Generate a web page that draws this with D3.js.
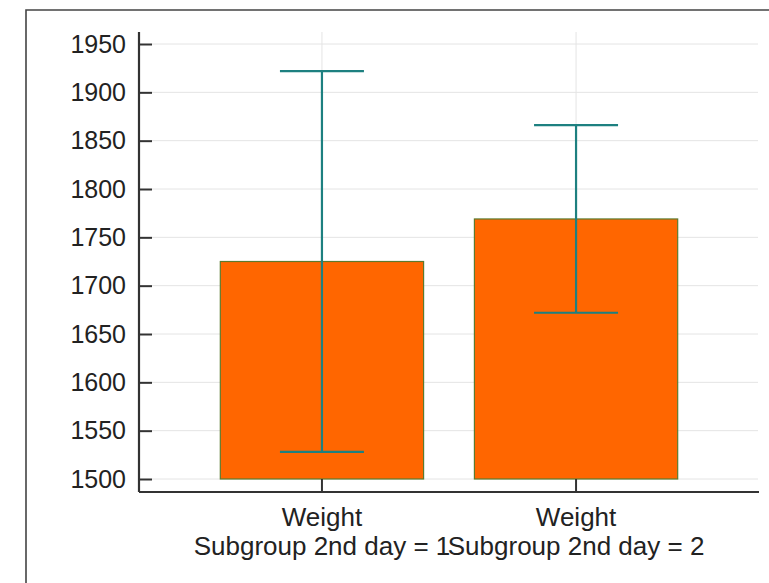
<!DOCTYPE html>
<html>
<head>
<meta charset="utf-8">
<script src="https://cdn.jsdelivr.net/npm/d3@7"></script>
<style>
  html, body { margin: 0; padding: 0; background: #fff; }
  svg { display: block; font-family: "Liberation Sans", Arial, Helvetica, sans-serif; }
</style>
</head>
<body>
<svg id="chart" width="769" height="583"></svg>
<script>
// Mean weight per subgroup, with error bar bounds
const variables = ["Weight", "Weight"];
const subgroups = ["Subgroup 2nd day = 1", "Subgroup 2nd day = 2"];
const means = [1725, 1769];
const lower = [1528, 1672];
const upper = [1922, 1866];
const yTicks = [1500, 1550, 1600, 1650, 1700, 1750, 1800, 1850, 1900, 1950];

const svg = d3.select("#chart");

// Outer frame (top and left edges)
svg.append("path")
  .attr("d", "M26,583 V10 H769")
  .attr("fill", "none")
  .attr("stroke", "#444")
  .attr("stroke-width", 1.6);

const plot = { left: 139, right: 759, top: 32, bottom: 492 };

const x = d3.scaleBand()
  .domain(d3.range(means.length))
  .range([plot.left, plot.right])
  .paddingInner(0.2)
  .paddingOuter(0.32);

const y = d3.scaleLinear()
  .domain([1500, 1950])
  .range([479, 44]);

// Gridlines
const grid = svg.append("g");
grid.selectAll("line.h").data(yTicks).join("line")
  .attr("class", "h")
  .attr("x1", plot.left + 13).attr("x2", plot.right - 1)
  .attr("y1", d => y(d)).attr("y2", d => y(d))
  .attr("stroke", "#e4e4e4").attr("stroke-width", 1);
grid.selectAll("line.v").data(x.domain()).join("line")
  .attr("class", "v")
  .attr("x1", d => x(d) + x.bandwidth() / 2).attr("x2", d => x(d) + x.bandwidth() / 2)
  .attr("y1", plot.top).attr("y2", plot.bottom - 13)
  .attr("stroke", "#e4e4e4").attr("stroke-width", 1);

// Bars
svg.append("g").selectAll("rect").data(means).join("rect")
  .attr("x", (d, i) => x(i))
  .attr("width", x.bandwidth())
  .attr("y", d => y(d))
  .attr("height", d => y(1500) - y(d))
  .attr("fill", "#ff6600")
  .attr("stroke", "#5c7a2e")
  .attr("stroke-width", 1.2);

// Error bars
const capHalf = 42;
const eb = svg.append("g")
  .attr("stroke", "#1d8080")
  .attr("stroke-width", 2.2)
  .attr("fill", "none");
means.forEach((m, i) => {
  const cx = x(i) + x.bandwidth() / 2;
  eb.append("line").attr("x1", cx).attr("x2", cx).attr("y1", y(lower[i])).attr("y2", y(upper[i]));
  eb.append("line").attr("x1", cx - capHalf).attr("x2", cx + capHalf).attr("y1", y(upper[i])).attr("y2", y(upper[i]));
  eb.append("line").attr("x1", cx - capHalf).attr("x2", cx + capHalf).attr("y1", y(lower[i])).attr("y2", y(lower[i]));
});

// Y axis with inward ticks
const yAxis = svg.append("g")
  .attr("transform", `translate(${plot.left},0)`)
  .call(d3.axisRight(y).tickValues(yTicks).tickSize(13).tickSizeOuter(0).tickFormat(d3.format("d")));
yAxis.select(".domain").remove();
yAxis.selectAll(".tick line").attr("stroke", "#333").attr("stroke-width", 2);
yAxis.selectAll(".tick text")
  .attr("x", -13)
  .attr("text-anchor", "end")
  .attr("fill", "#222")
  .style("font-size", "25px");

// X axis with inward ticks and two-line labels
const xAxis = svg.append("g")
  .attr("transform", `translate(0,${plot.bottom})`)
  .call(d3.axisTop(x).tickSize(13).tickSizeOuter(0).tickFormat(""));
xAxis.select(".domain").remove();
xAxis.selectAll(".tick line").attr("stroke", "#333").attr("stroke-width", 2);
xAxis.selectAll(".tick").each(function (d) {
  const t = d3.select(this).append("text")
    .attr("text-anchor", "middle")
    .attr("fill", "#222")
    .style("font-size", "26px");
  t.append("tspan").attr("x", 0).attr("y", 34).text(variables[d]);
  t.append("tspan").attr("x", 0).attr("y", 63).text(subgroups[d]);
});

// Axis lines
svg.append("line")
  .attr("x1", plot.left).attr("x2", plot.left)
  .attr("y1", plot.top).attr("y2", plot.bottom)
  .attr("stroke", "#333").attr("stroke-width", 2.2);
svg.append("line")
  .attr("x1", plot.left).attr("x2", plot.right)
  .attr("y1", plot.bottom).attr("y2", plot.bottom)
  .attr("stroke", "#333").attr("stroke-width", 2.2);
</script>
</body>
</html>
